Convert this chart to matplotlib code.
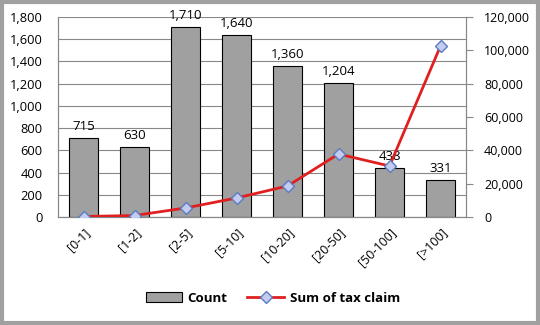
import matplotlib.pyplot as plt
from matplotlib.patches import Rectangle
from matplotlib.ticker import FuncFormatter

categories = ['[0-1]', '[1-2]', '[2-5]', '[5-10]', '[10-20]', '[20-50]', '[50-100]', '[>100]']
count = [715, 630, 1710, 1640, 1360, 1204, 438, 331]
tax_claim = [300, 900, 5400, 11400, 18600, 37800, 30600, 102600]

plt.rcParams['font.family'] = ['Open Sans', 'DejaVu Sans']

fig = plt.figure(figsize=(5.4, 3.25), dpi=100)
ax = fig.add_axes([58 / 540, 108 / 325, 408 / 540, 200 / 325])
ax2 = ax.twinx()

x = range(len(categories))
bars = ax.bar(x, count, width=0.57, color='#A0A0A0', edgecolor='black', linewidth=0.8,
              label='Count', zorder=2)
for xi, v in zip(x, count):
    ax.text(xi, v + 45, f'{v:,}', ha='center', va='bottom', fontsize=9.5, zorder=5)

ax.set_xlim(-0.5, len(categories) - 0.5)
ax.set_ylim(0, 1800)
ax.set_yticks(range(0, 1801, 200))
ax.yaxis.set_major_formatter(FuncFormatter(lambda v, p: f'{int(v):,}'))
ax.grid(axis='y', color='#888888', linewidth=0.8, zorder=0)
ax.set_axisbelow(True)
ax.set_xticks(list(x))
ax.set_xticklabels(categories, rotation=45, ha='right', rotation_mode='anchor', fontsize=9)
ax.tick_params(axis='y', labelsize=9.3, length=0, pad=11)
ax.tick_params(axis='x', length=0, pad=6)

line, = ax2.plot(x, tax_claim, color='#E02020', linewidth=2, marker='D', markersize=6.5,
                 markerfacecolor='#C4CCEE', markeredgecolor='#5A7CC0', markeredgewidth=1,
                 label='Sum of tax claim', zorder=4)
ax2.set_ylim(0, 120000)
ax2.set_yticks(range(0, 120001, 20000))
ax2.yaxis.set_major_formatter(FuncFormatter(lambda v, p: f'{int(v):,}'))
ax2.tick_params(axis='y', labelsize=9, length=5, color='#888888', pad=8)

for a in (ax, ax2):
    a.spines['top'].set_visible(False)
    a.spines['bottom'].set_color('#888888')
    a.spines['left'].set_color('#888888')
    a.spines['right'].set_color('#888888')

ax.set_zorder(ax2.get_zorder() - 1)
ax.patch.set_visible(True)
ax2.patch.set_visible(False)

fig.legend([bars, line], ['Count', 'Sum of tax claim'], loc='center', bbox_to_anchor=(0.505, 27 / 325),
           ncol=2, frameon=False, prop={'weight': 'bold', 'size': 9.5}, handlelength=2.8,
           columnspacing=1.5, handletextpad=0.4)

fig.patches.append(Rectangle((0.003, 0.005), 0.994, 0.99, transform=fig.transFigure,
                             fill=False, edgecolor='#A0A0A0', linewidth=3))

fig.savefig('out.png', dpi=100)
